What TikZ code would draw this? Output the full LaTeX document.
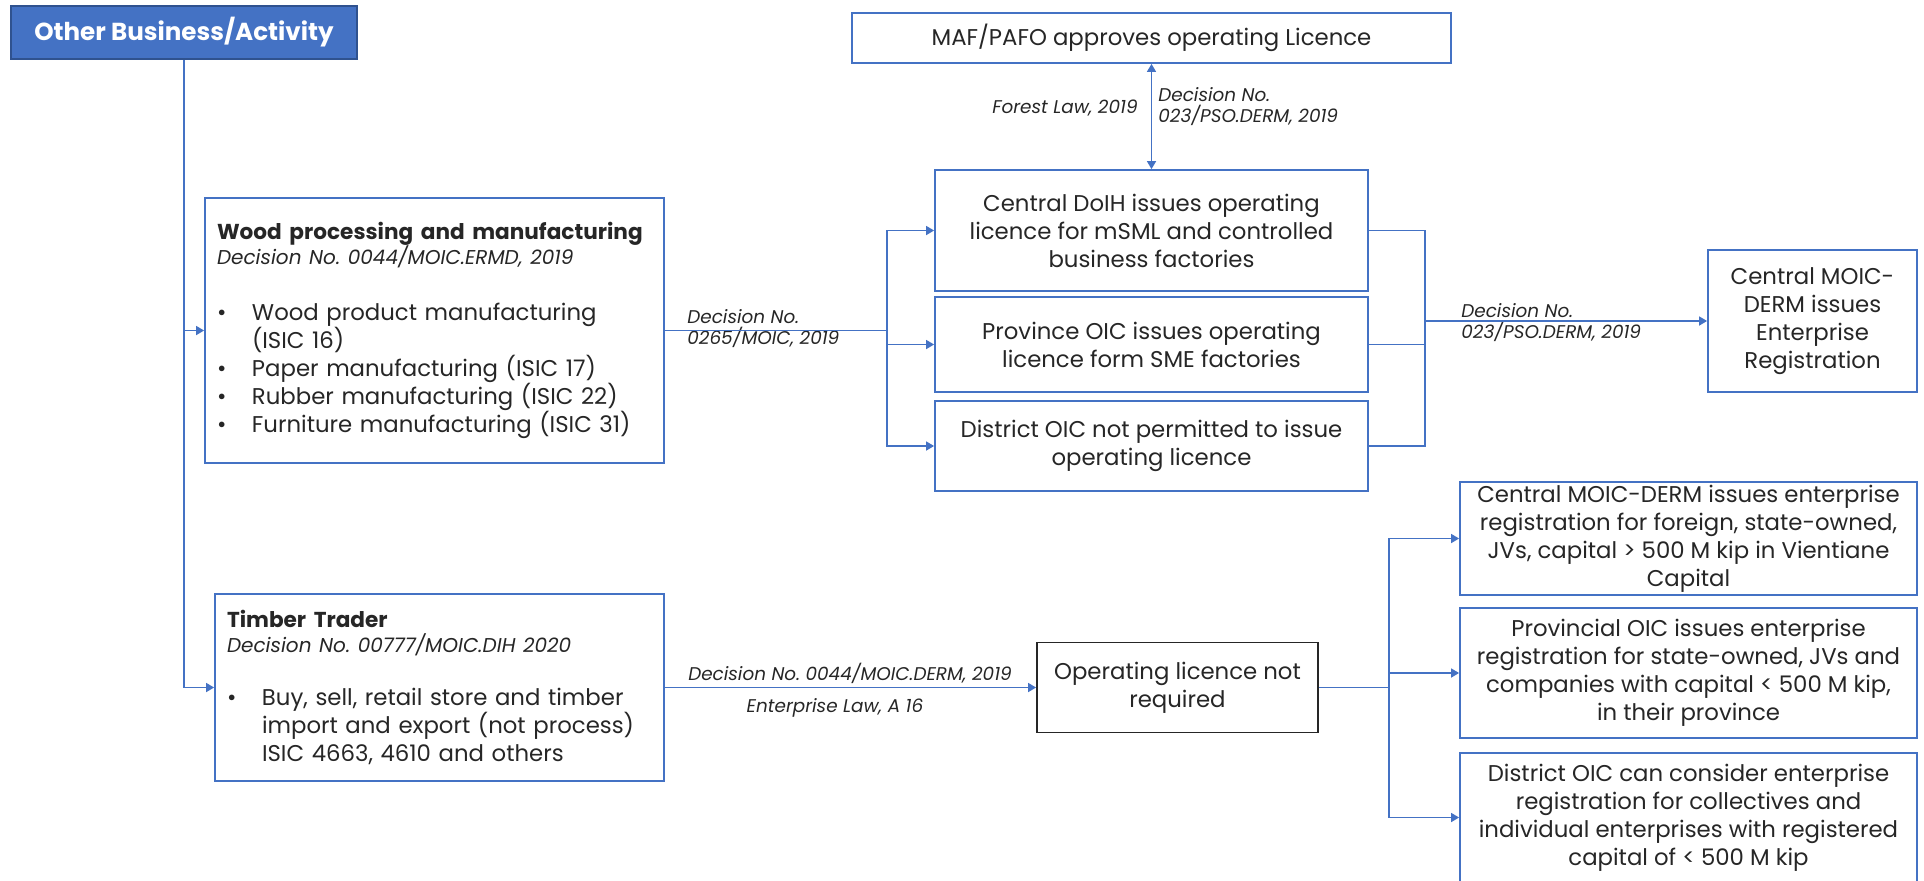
\documentclass[tikz,border=0pt]{standalone}
\usepackage{fontspec}
\setmainfont{Poppins}
\frenchspacing
\usepackage{xcolor}
\definecolor{officeblue}{RGB}{68,114,196}
\definecolor{darkblue}{RGB}{47,82,143}
\definecolor{textgray}{RGB}{38,38,38}
\usetikzlibrary{arrows.meta, positioning, calc}
\newcommand\itemdot{\makebox[17.5pt][l]{\textbullet}}

\begin{document}
\begin{tikzpicture}[x=0.5pt, y=-0.5pt, >={Triangle[length=4pt,width=4.5pt]},
    every node/.style={text=textgray, font=\fontsize{11.4}{14}\selectfont, inner sep=0pt},
    box/.style={draw=officeblue, line width=0.9pt, align=center},
    link/.style={draw=officeblue, line width=0.8pt},
    law/.style={font=\fontsize{9.2}{10.5}\selectfont\itshape}]
    \useasboundingbox (0,0) rectangle (1924,880);

    \node[box, fill=officeblue, draw=darkblue, text=white, font=\fontsize{12.3}{15}\selectfont\bfseries, minimum width=173pt, minimum height=26.5pt] (other) at (184,32.5) {Other Business/Activity};
    \node[box, minimum width=299.5pt, minimum height=25pt] (maf) at (1151.5,38) {MAF/PAFO approves operating Licence};

    \node[box, align=left, text width=217.5pt, inner xsep=6pt, minimum height=132.5pt] (wood) at (434.5,330.5) {%
        \mbox{\fontsize{10.8}{14}\selectfont\bfseries Wood processing and manufacturing}\\[-1.5pt]
        \mbox{\fontsize{10}{12}\selectfont\itshape Decision No. 0044/MOIC.ERMD, 2019}\\[14pt]
        \itemdot Wood product manufacturing\\
        \hspace*{17.5pt}(ISIC 16)\\
        \itemdot\mbox{Paper manufacturing (ISIC 17)}\\
        \itemdot\mbox{Rubber manufacturing (ISIC 22)}\\
        \itemdot\mbox{Furniture manufacturing (ISIC 31)}};
    \node[box, align=left, text width=212.5pt, inner xsep=6pt, minimum height=93.5pt] (timber) at (439.5,687.5) {%
        \mbox{\fontsize{10.8}{14}\selectfont\bfseries Timber Trader}\\[-1.5pt]
        \mbox{\fontsize{10}{12}\selectfont\itshape Decision No. 00777/MOIC.DIH 2020}\\[12.5pt]
        \itemdot\mbox{Buy, sell, retail store and timber}\\
        \hspace*{17.5pt}\mbox{import and export (not process)}\\
        \hspace*{17.5pt}\mbox{ISIC 4663, 4610 and others}};

    \node[box, minimum width=216.5pt, minimum height=60.5pt] (doih) at (1151.5,230.5) {Central DoIH issues operating\\licence for mSML and controlled\\business factories};
    \node[box, minimum width=216.5pt, minimum height=47.5pt] (prov) at (1151.5,344.5) {Province OIC issues operating\\licence form SME factories};
    \node[box, minimum width=216.5pt, minimum height=45pt] (dist) at (1151.5,446) {District OIC not permitted to issue\\operating licence};
    \node[box, minimum width=104.5pt, minimum height=71pt] (derm) at (1812.5,321) {Central MOIC-\\DERM issues\\Enterprise\\Registration};

    \node[box, draw=textgray, minimum width=140.5pt, minimum height=45pt] (oplic) at (1177.5,687.5) {Operating licence not\\required};
    \node[box, minimum width=228.5pt, minimum height=56.5pt] (reg1) at (1688.5,538.5) {Central MOIC-DERM issues enterprise\\registration for foreign, state-owned,\\JVs, capital > 500 M kip in Vientiane\\Capital};
    \node[box, minimum width=228.5pt, minimum height=65pt] (reg2) at (1688.5,673) {Provincial OIC issues enterprise\\registration for state-owned, JVs and\\companies with capital < 500 M kip,\\in their province};
    \node[box, minimum width=228.5pt, minimum height=64.5pt] (reg3) at (1688.5,817.5) {District OIC can consider enterprise\\registration for collectives and\\individual enterprises with registered\\capital of < 500 M kip};

    \node[law, align=left, anchor=west] (lawA) at (687,328.5) {Decision No.\\0265/MOIC, 2019};
    \node[law, anchor=east] (lawB) at (1138,108) {Forest Law, 2019};
    \node[law, align=left, anchor=west] (lawC) at (1158,106.5) {Decision No.\\023/PSO.DERM, 2019};
    \node[law, align=left, anchor=west] (lawD) at (1461,322.5) {Decision No.\\023/PSO.DERM, 2019};
    \node[law] (lawE) at (850,673) {Decision No. 0044/MOIC.DERM, 2019};
    \node[law] (lawF) at (835,708) {Enterprise Law, A 16};

    \coordinate (forkA) at (887,330.5);
    \coordinate (joinA) at (1425,321);
    \coordinate (forkB) at (1389,687.5);

    \draw[link, ->] (other.south) |- (wood.west);
    \draw[link, ->] (other.south) |- (timber.west);
    \draw[link] (wood.east) -- (forkA);
    \draw[link, ->] (forkA) |- (doih.west);
    \draw[link, ->] (forkA) |- (prov.west);
    \draw[link, ->] (forkA) |- (dist.west);
    \draw[link, <->] (maf.south) -- (doih.north);
    \draw[link] (doih.east) -| (joinA);
    \draw[link] (prov.east) -| (joinA);
    \draw[link] (dist.east) -| (joinA);
    \draw[link, ->] (joinA) -- (derm.west);
    \draw[link, ->] (timber.east) -- (oplic.west);
    \draw[link] (oplic.east) -- (forkB);
    \draw[link, ->] (forkB) |- (reg1.west);
    \draw[link, ->] (forkB) |- (reg2.west);
    \draw[link, ->] (forkB) |- (reg3.west);
\end{tikzpicture}
\end{document}
